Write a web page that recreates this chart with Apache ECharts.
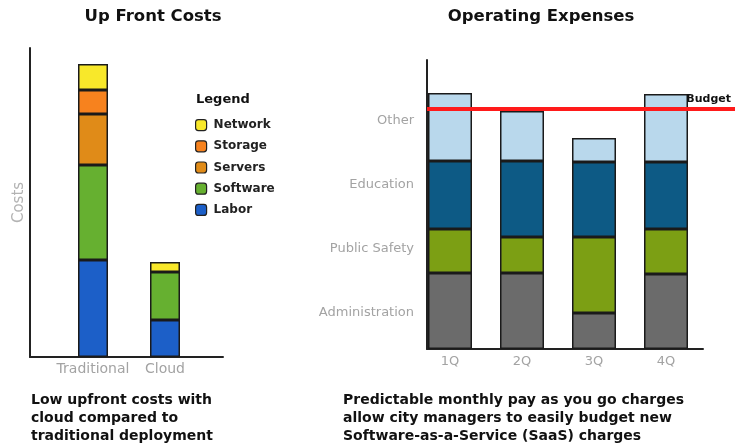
<!DOCTYPE html>
<html>
<head>
<meta charset="utf-8">
<script src="https://cdn.jsdelivr.net/npm/echarts@6/dist/echarts.min.js"></script>
<style>
  html, body { margin: 0; padding: 0; background: #fff; }
  #chart-container { width: 735px; height: 445px; }
</style>
</head>
<body>
<div id="chart-container"></div>
<script>
// up front costs (left chart), rough units
var costCategories = ['Traditional', 'Cloud'];
var labor = [97, 37];
var software = [95, 48];
var servers = [51, null];
var storage = [24, null];
var network = [26, 10];
var costMax = 309;

// operating expenses (right chart)
var quarters = ['1Q', '2Q', '3Q', '4Q'];
var administration = [76, 76, 36, 75];
var publicSafety = [44, 36, 76, 45];
var education = [68, 76, 75, 67];
var other = [68, 50, 24, 68];
var expenseLabels = ['Administration', 'Public Safety', 'Education', 'Other'];
var budget = 240;
var expenseMax = 289;

var chartDom = document.getElementById('chart-container');
var myChart = echarts.init(chartDom);
var option;

var font = 'DejaVu Sans';
var border = { borderColor: '#1a1a1a', borderWidth: 1.5 };
var axisLineStyle = { show: true, lineStyle: { color: '#222', width: 2 } };

function costSeries(name, data, color) {
  return {
    name: name, type: 'bar', stack: 'cost', data: data,
    xAxisIndex: 1, yAxisIndex: 1, barWidth: 30,
    itemStyle: Object.assign({ color: color }, border)
  };
}

function opsSeries(name, data, color) {
  return {
    name: name, type: 'bar', stack: 'ops', data: data,
    xAxisIndex: 3, yAxisIndex: 3, barWidth: 44,
    itemStyle: Object.assign({ color: color }, border)
  };
}

var boldText = { fontFamily: font, fontWeight: 'bold', color: '#111' };

option = {
  animation: false,
  textStyle: { fontFamily: font },
  title: [
    { text: 'Up Front Costs', left: 153, top: 8, padding: 0, textAlign: 'center',
      textStyle: Object.assign({ fontSize: 16.5 }, boldText) },
    { text: 'Operating Expenses', left: 541, top: 8, padding: 0, textAlign: 'center',
      textStyle: Object.assign({ fontSize: 16.5 }, boldText) },
    { text: 'Legend', left: 196, top: 93, padding: 0,
      textStyle: Object.assign({ fontSize: 13 }, boldText) },
    { text: 'Low upfront costs with\ncloud compared to\ntraditional deployment',
      left: 31, top: 391, padding: 0,
      textStyle: Object.assign({ fontSize: 14, lineHeight: 18 }, boldText) },
    { text: 'Predictable monthly pay as you go charges\nallow city managers to easily budget new\nSoftware-as-a-Service (SaaS) charges',
      left: 343, top: 391, padding: 0,
      textStyle: Object.assign({ fontSize: 14, lineHeight: 18 }, boldText) }
  ],
  legend: {
    data: ['Network', 'Storage', 'Servers', 'Software', 'Labor'],
    orient: 'vertical', left: 195, top: 119, padding: 0,
    itemWidth: 11, itemHeight: 11, itemGap: 9,
    itemStyle: { borderColor: '#222', borderWidth: 1.2 },
    textStyle: { fontFamily: font, fontWeight: 'bold', fontSize: 12, color: '#222',
      padding: [0, 0, 0, 2] },
    selectedMode: false
  },
  grid: [
    { left: 30, top: 48, width: 193, height: 309 },
    { left: 57, top: 48, width: 144, height: 309 },
    { left: 427, top: 60, width: 276, height: 289 },
    { left: 414, top: 60, width: 288, height: 289 },
    { left: 427, top: 89, width: 276, height: 256 },
    { left: 427, top: 60, right: -4, height: 289 }
  ],
  xAxis: [
    { gridIndex: 0, type: 'category', data: [''], axisLine: axisLineStyle,
      axisTick: { show: false }, axisLabel: { show: false } },
    { gridIndex: 1, type: 'category', data: costCategories,
      axisLine: { show: false }, axisTick: { show: false },
      axisLabel: { color: '#a3a3a3', fontSize: 14, margin: 5, interval: 0 } },
    { gridIndex: 2, type: 'category', data: [''], axisLine: axisLineStyle,
      axisTick: { show: false }, axisLabel: { show: false } },
    { gridIndex: 3, type: 'category', data: quarters,
      axisLine: { show: false }, axisTick: { show: false },
      axisLabel: { color: '#a3a3a3', fontSize: 13, margin: 6, interval: 0 } },
    { gridIndex: 4, type: 'value', show: false },
    { gridIndex: 5, type: 'value', min: 0, max: 1, show: false }
  ],
  yAxis: [
    { gridIndex: 0, type: 'value', min: 0, max: costMax, axisLine: axisLineStyle,
      axisTick: { show: false }, axisLabel: { show: false }, splitLine: { show: false },
      name: 'Costs', nameLocation: 'middle', nameGap: 3,
      nameTextStyle: { color: '#b3b3b3', fontSize: 15 } },
    { gridIndex: 1, type: 'value', min: 0, max: costMax, show: false },
    { gridIndex: 2, type: 'value', min: 0, max: expenseMax, axisLine: axisLineStyle,
      axisTick: { show: false }, axisLabel: { show: false }, splitLine: { show: false } },
    { gridIndex: 3, type: 'value', min: 0, max: expenseMax, show: false },
    { gridIndex: 4, type: 'category', data: expenseLabels,
      axisLine: { show: false }, axisTick: { show: false },
      axisLabel: { color: '#a3a3a3', fontSize: 13, margin: 13, interval: 0 } },
    { gridIndex: 5, type: 'value', min: 0, max: expenseMax, show: false }
  ],
  series: [
    costSeries('Labor', labor, '#1c5fc8'),
    costSeries('Software', software, '#66b030'),
    costSeries('Servers', servers, '#e08b18'),
    costSeries('Storage', storage, '#f7821e'),
    costSeries('Network', network, '#f8e82a'),
    opsSeries('Administration', administration, '#6b6b6b'),
    opsSeries('Public Safety', publicSafety, '#7c9f14'),
    opsSeries('Education', education, '#0d5a85'),
    opsSeries('Other', other, '#b9d8ec'),
    {
      name: 'Budget', type: 'line', data: [],
      xAxisIndex: 5, yAxisIndex: 5,
      markLine: {
        symbol: 'none', silent: true,
        lineStyle: { color: '#ff1a1a', width: 4, type: 'solid' },
        label: {
          formatter: 'Budget', position: 'insideEndTop', distance: 4,
          fontFamily: font, fontWeight: 'bold', fontSize: 11, color: '#111'
        },
        data: [{ yAxis: budget }]
      }
    }
  ]
};

option && myChart.setOption(option);
</script>
</body>
</html>
